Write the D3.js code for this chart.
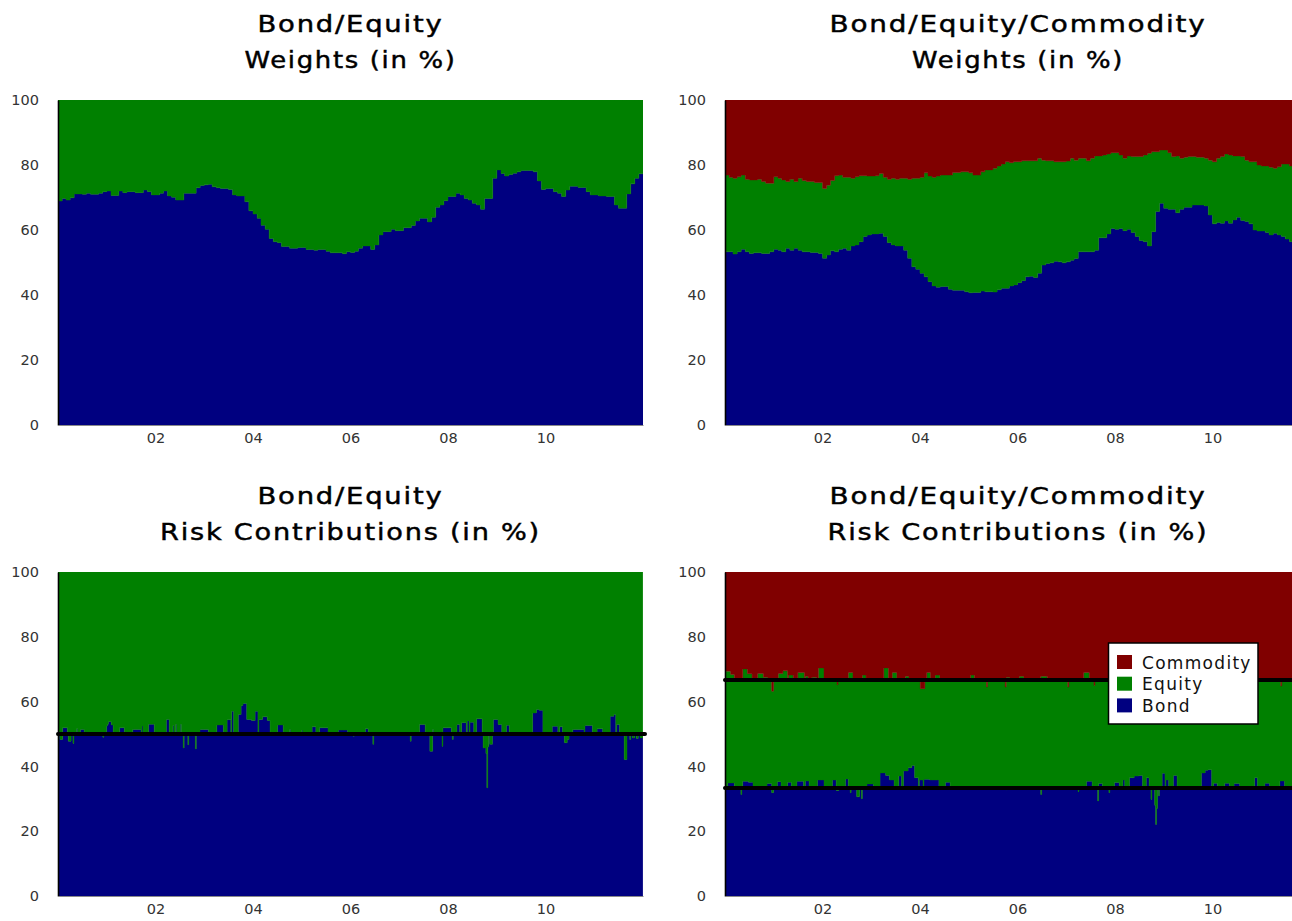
<!DOCTYPE html>
<html>
<head>
<meta charset="utf-8">
<script src="https://cdn.jsdelivr.net/npm/d3@7"></script>
<style>
  body { margin: 0; background: #fff; }
  svg { display: block; }
</style>
</head>
<body>
<svg id="chart" width="1292" height="921"></svg>
<script>
// ---------------- data ----------------
const assetNames  = ["Bond", "Equity", "Commodity"];
const assetColors = { Bond: "#000080", Equity: "#008000", Commodity: "#800000" };
const yTicks      = [0, 20, 40, 60, 80, 100];
const xTickYears  = [2002, 2004, 2006, 2008, 2010];

// Bond/Equity portfolio: monthly bond weight (%) from Jan 2000; equity is the rest
const bondW2 = [
  68.9, 69.7, 69.2, 69.9, 71.1, 71.1, 71.0, 71.3, 71.0, 71.0,
  71.3, 71.8, 72.0, 70.6, 70.6, 72.0, 71.5, 71.8, 71.8, 71.5,
  71.5, 72.3, 71.8, 70.8, 70.8, 71.3, 72.0, 70.5, 70.1, 69.2,
  69.2, 71.3, 71.3, 71.3, 73.0, 73.7, 73.9, 74.1, 73.3, 73.0,
  72.8, 72.8, 72.5, 70.8, 70.5, 70.5, 68.7, 65.9, 64.9, 63.6,
  61.5, 60.2, 57.4, 56.4, 56.1, 54.9, 54.9, 54.4, 54.4, 54.6,
  54.6, 54.0, 54.0, 53.8, 54.0, 54.0, 53.5, 53.0, 53.0, 53.0,
  52.7, 53.3, 53.1, 53.5, 54.4, 55.1, 55.1, 54.0, 55.4, 58.5,
  59.5, 59.5, 60.2, 59.8, 59.8, 60.7, 60.7, 61.4, 62.8, 63.6,
  63.6, 62.5, 63.9, 67.0, 67.7, 69.0, 70.3, 70.3, 71.3, 70.8,
  69.7, 69.2, 68.2, 67.7, 66.4, 69.7, 69.7, 75.9, 78.5, 77.4,
  76.6, 77.1, 77.5, 77.9, 78.3, 78.3, 78.3, 77.9, 75.1, 72.5,
  72.8, 72.8, 71.8, 71.3, 70.3, 72.3, 73.5, 73.5, 73.1, 73.1,
  71.8, 70.8, 70.8, 70.5, 70.5, 70.3, 70.3, 67.7, 66.7, 66.7,
  71.1, 74.2, 75.9, 77.3
];

// Bond/Equity/Commodity portfolio: monthly weights (%) from Jan 2000; commodity is the rest
const bondW3 = [
  53.3, 53.3, 52.6, 53.3, 54.1, 53.3, 52.8, 53.0, 53.0, 52.8,
  52.8, 53.3, 54.1, 53.8, 53.3, 54.4, 53.8, 54.4, 53.8, 53.3,
  53.3, 53.1, 53.1, 52.8, 51.3, 52.3, 53.6, 53.3, 54.1, 54.4,
  53.8, 55.1, 55.4, 56.4, 58.0, 58.5, 58.8, 58.8, 59.0, 58.0,
  56.1, 55.4, 55.1, 55.1, 53.8, 51.3, 48.7, 47.9, 46.7, 45.6,
  44.1, 42.8, 42.4, 42.6, 42.6, 41.8, 41.5, 41.5, 41.5, 41.0,
  40.7, 40.8, 40.8, 41.2, 41.0, 41.0, 40.9, 41.6, 42.1, 42.1,
  42.8, 43.1, 43.8, 44.4, 45.6, 45.8, 45.4, 46.7, 49.2, 49.7,
  49.9, 50.4, 50.2, 49.9, 50.2, 50.7, 51.2, 53.3, 53.3, 53.3,
  53.3, 53.8, 57.6, 57.6, 58.8, 60.5, 60.2, 60.5, 59.8, 60.2,
  59.2, 58.0, 56.8, 56.4, 55.1, 59.5, 65.7, 68.2, 66.7, 66.4,
  66.4, 65.3, 66.4, 67.0, 67.0, 67.7, 67.7, 67.7, 67.4, 64.6,
  61.9, 62.3, 62.1, 62.8, 62.1, 63.1, 63.9, 62.9, 62.6, 61.9,
  60.0, 59.7, 59.7, 59.2, 58.5, 59.0, 58.5, 58.0, 57.2, 56.4
];
const equityW3 = [
  23.6, 22.9, 23.3, 23.1, 22.8, 22.3, 22.6, 22.4, 22.6, 22.1,
  21.6, 21.1, 22.3, 22.1, 22.1, 20.5, 21.8, 20.5, 22.1, 21.9,
  21.6, 21.8, 21.5, 21.8, 21.5, 21.5, 21.6, 23.4, 22.8, 21.8,
  22.4, 20.8, 21.0, 20.3, 18.7, 18.1, 17.8, 17.9, 18.4, 18.2,
  19.5, 20.5, 20.5, 20.8, 22.1, 24.3, 27.2, 28.0, 29.5, 32.0,
  32.5, 33.4, 34.2, 34.3, 34.3, 35.1, 36.2, 36.2, 36.4, 36.9,
  36.9, 36.1, 36.1, 36.7, 37.5, 37.5, 38.1, 38.1, 38.2, 38.9,
  37.9, 37.9, 37.2, 36.9, 35.7, 35.5, 35.9, 35.4, 32.3, 31.6,
  31.4, 30.6, 30.8, 31.1, 31.0, 31.4, 30.3, 28.8, 28.8, 28.0,
  28.8, 29.0, 25.2, 25.5, 24.6, 23.3, 23.6, 22.6, 22.3, 22.6,
  23.4, 24.6, 25.8, 26.7, 28.5, 24.6, 18.4, 16.4, 17.9, 17.4,
  16.2, 17.5, 15.7, 15.4, 15.6, 14.9, 14.7, 14.7, 14.7, 16.9,
  19.1, 19.8, 20.5, 20.6, 21.0, 19.7, 18.9, 19.7, 18.9, 19.1,
  21.0, 20.3, 20.0, 20.5, 20.8, 20.0, 21.0, 22.3, 23.1, 23.3
];

// Weekly risk contributions (%): equal-risk targets, and the weeks
// [first week, last week, value] where the realised contribution departs from them
const rcTarget2 = 50;
const rcTarget3 = 100 / 3;

const rc2BondDeviations = [
  [2, 4, 48.3], [5, 9, 51.9], [11, 13, 47.8], [16, 16, 47.1], [20, 20, 51.6], [24, 27, 51.4],
  [48, 48, 49.0], [52, 52, 52.5], [53, 53, 53.0], [54, 56, 53.8], [57, 58, 52.8], [66, 70, 51.9],
  [80, 88, 51.4], [90, 90, 52.5], [97, 102, 53.0], [116, 118, 54.5], [123, 123, 52.6],
  [126, 126, 53.0], [131, 131, 53.0], [134, 134, 45.7], [139, 139, 46.7], [147, 147, 45.4],
  [152, 160, 51.4], [170, 176, 52.8], [181, 184, 54.4], [186, 187, 57.0], [193, 195, 56.0],
  [196, 197, 58.8], [198, 201, 59.4], [202, 206, 54.5], [207, 210, 54.2], [211, 213, 57.0],
  [215, 218, 54.5], [219, 223, 55.3], [224, 226, 54.2], [235, 240, 52.8], [248, 248, 51.4],
  [261, 261, 51.2], [272, 275, 52.2], [280, 288, 51.9], [300, 309, 51.2], [316, 316, 49.3],
  [329, 331, 51.6], [337, 337, 46.8], [377, 377, 47.8], [387, 392, 52.9], [398, 400, 44.7],
  [401, 401, 51.4], [411, 411, 46.2], [412, 420, 51.9], [422, 422, 48.3], [427, 429, 52.9],
  [432, 436, 53.5], [438, 439, 54.0], [441, 444, 53.6], [448, 453, 54.7], [455, 457, 45.7],
  [458, 458, 44.0], [459, 459, 33.4], [460, 460, 46.0], [462, 464, 46.8], [466, 470, 54.5],
  [471, 474, 52.9], [480, 482, 52.7], [508, 511, 56.5], [512, 514, 57.6], [515, 518, 57.3],
  [529, 534, 52.4], [537, 539, 52.2], [542, 544, 47.3], [545, 546, 48.3], [551, 562, 51.4],
  [564, 571, 52.6], [577, 582, 51.6], [591, 594, 55.5], [595, 596, 56.0], [598, 600, 52.9],
  [606, 608, 42.1], [612, 612, 48.3], [615, 616, 48.8], [619, 620, 48.6], [623, 625, 48.8]
];

const rc3BondDeviations = [
  [3, 9, 34.9], [17, 17, 31.3], [19, 24, 35.4], [25, 29, 35.1], [45, 49, 34.7], [50, 51, 31.9],
  [56, 59, 35.3], [67, 70, 35.1], [77, 83, 35.4], [86, 89, 35.5], [99, 105, 35.8], [115, 118, 35.8],
  [119, 121, 32.6], [129, 131, 36.1], [134, 134, 31.9], [141, 143, 30.6], [146, 146, 30.0],
  [152, 158, 34.6], [166, 171, 38.0], [172, 175, 37.2], [176, 180, 35.8], [186, 188, 37.0],
  [191, 195, 38.6], [196, 199, 39.6], [200, 202, 40.3], [203, 206, 36.5], [208, 211, 35.8],
  [213, 218, 36.0], [219, 228, 35.8], [236, 240, 35.1], [301, 301, 32.8], [338, 338, 31.3],
  [378, 378, 32.2], [387, 392, 35.4], [399, 399, 29.3], [400, 403, 34.7], [411, 411, 31.9],
  [417, 421, 35.0], [426, 427, 35.8], [433, 437, 36.5], [438, 442, 37.0], [443, 446, 37.2],
  [451, 453, 36.5], [456, 456, 29.8], [460, 460, 28.0], [461, 461, 22.1], [462, 462, 27.0],
  [464, 464, 30.9], [468, 470, 37.9], [472, 474, 35.8], [480, 483, 37.2], [510, 513, 38.0],
  [514, 516, 38.8], [517, 520, 39.0], [523, 526, 34.8], [535, 539, 34.8], [545, 550, 34.7],
  [567, 569, 36.5], [578, 582, 34.8], [594, 598, 35.5]
];
const rc3CommodityDeviations = [
  [0, 5, 30.6], [6, 9, 31.6], [19, 23, 29.9], [24, 28, 31.4], [35, 40, 31.3], [41, 45, 32.5],
  [50, 51, 36.8], [57, 61, 31.3], [62, 66, 30.5], [68, 72, 31.8], [78, 84, 31.0], [86, 88, 32.2],
  [93, 97, 32.5], [100, 105, 29.6], [120, 120, 34.8], [132, 136, 31.0], [147, 150, 31.8],
  [170, 174, 29.6], [179, 183, 31.0], [193, 196, 32.2], [209, 213, 36.0], [216, 219, 31.0],
  [225, 229, 31.8], [263, 266, 31.8], [280, 280, 35.5], [300, 300, 35.5], [301, 304, 32.5],
  [315, 319, 32.2], [338, 344, 32.2], [367, 367, 35.5], [384, 389, 31.0], [395, 395, 35.0],
  [399, 403, 32.8], [582, 585, 32.8], [595, 595, 35.2]
];

// ---------------- helpers ----------------
const startDate = new Date(2000, 0, 1);
const monthDate = i => new Date(2000, i, 1);
const weekDate  = w => d3.timeDay.offset(startDate, 7 * w);

function weekly(nWeeks, target, deviations) {
  const s = new Array(nWeeks).fill(target);
  deviations.forEach(([a, b, v]) => { for (let w = a; w <= b && w < nWeeks; w++) s[w] = v; });
  return s;
}

const svg = d3.select("#chart");
const defs = svg.append("defs");
let clipId = 0;

function drawPanel(p) {
  const x = d3.scaleTime().domain([startDate, p.end]).range([p.x0, p.x1]);
  const y = d3.scaleLinear().domain([0, 100]).range([p.y1, p.y0]);

  const id = "clip" + (clipId++);
  defs.append("clipPath").attr("id", id)
    .append("rect").attr("x", p.x0).attr("y", p.y0)
    .attr("width", p.x1 - p.x0).attr("height", p.y1 - p.y0);

  const g = svg.append("g");
  const plot = g.append("g").attr("clip-path", `url(#${id})`);

  const layers = d3.stack().keys(p.keys)(p.rows);
  const area = d3.area()
    .curve(d3.curveStepAfter)
    .x(d => x(d.data.date))
    .y0(d => y(d[0]))
    .y1(d => y(d[1]));

  plot.selectAll("path.layer").data(layers).join("path")
    .attr("class", "layer")
    .attr("fill", d => assetColors[d.key])
    .attr("stroke", d => assetColors[d.key])
    .attr("stroke-width", 0.4)
    .attr("d", area);

  // equal-risk reference levels
  (p.targets || []).forEach(t => {
    g.append("line")
      .attr("x1", p.x0).attr("x2", Math.min(p.x1 + 2, 1292))
      .attr("y1", y(t)).attr("y2", y(t))
      .attr("stroke", "#000").attr("stroke-width", 4)
      .attr("stroke-linecap", "round");
  });

  // axes
  const yAxis = d3.axisLeft(y).tickValues(yTicks).tickSize(0).tickPadding(19);
  const ya = g.append("g").attr("transform", `translate(${p.x0},0)`).call(yAxis);
  ya.select(".domain").attr("stroke", "#000").attr("stroke-width", 1.6);
  ya.selectAll("text").attr("font-family", "DejaVu Sans").attr("font-size", 14.5).attr("fill", "#333");

  const xAxis = d3.axisBottom(x)
    .tickValues(xTickYears.map(yr => new Date(yr, 0, 1)))
    .tickFormat(d3.timeFormat("%y"))
    .tickSize(0).tickPadding(8);
  const xa = g.append("g").attr("transform", `translate(0,${p.y1})`).call(xAxis);
  xa.select(".domain").attr("stroke", "#8a8a8a").attr("stroke-width", 1.2);
  xa.selectAll("text").attr("font-family", "DejaVu Sans").attr("font-size", 14.5).attr("fill", "#333");

  // title (two lines)
  p.title.forEach((line, i) => {
    svg.append("text")
      .attr("x", p.titleX).attr("y", p.titleY + i * 35.5)
      .attr("text-anchor", "middle")
      .attr("font-family", "DejaVu Sans").attr("font-size", 23)
      .attr("fill", "#000").attr("stroke", "#000").attr("stroke-width", 0.45)
      .attr("letter-spacing", 1.5)
      .attr("textLength", line.w).attr("lengthAdjust", "spacingAndGlyphs")
      .text(line.t);
  });
  return { x, y, g };
}

// ---------------- build rows ----------------
const leftEnd  = new Date(2012, 0, 1);
const rightEnd = new Date(2011, 7, 20);

const rowsW2 = bondW2.map((b, i) => ({ date: monthDate(i), Bond: b, Equity: 100 - b }));
rowsW2.push({ ...rowsW2[rowsW2.length - 1], date: leftEnd });

const rowsW3 = bondW3.map((b, i) => ({
  date: monthDate(i), Bond: b, Equity: equityW3[i], Commodity: 100 - b - equityW3[i]
}));
rowsW3.push({ ...rowsW3[rowsW3.length - 1], date: rightEnd });

const nW2 = 627;
const rcBond2 = weekly(nW2, rcTarget2, rc2BondDeviations);
const rowsRC2 = rcBond2.map((b, w) => ({ date: weekDate(w), Bond: b, Equity: 100 - b }));

const nW3 = 610;
const rcBond3 = weekly(nW3, rcTarget3, rc3BondDeviations);
const rcComm3 = weekly(nW3, rcTarget3, rc3CommodityDeviations);
const rowsRC3 = rcBond3.map((b, w) => ({
  date: weekDate(w), Bond: b, Commodity: rcComm3[w], Equity: 100 - b - rcComm3[w]
}));

// ---------------- panels ----------------
drawPanel({
  x0: 58, x1: 643, y0: 100, y1: 425, end: leftEnd,
  keys: ["Bond", "Equity"], rows: rowsW2,
  titleX: 350.5, titleY: 32,
  title: [{ t: "Bond/Equity", w: 186 }, { t: "Weights (in %)", w: 212 }]
});

drawPanel({
  x0: 725, x1: 1292, y0: 100, y1: 425, end: rightEnd,
  keys: ["Bond", "Equity", "Commodity"], rows: rowsW3,
  titleX: 1018, titleY: 32,
  title: [{ t: "Bond/Equity/Commodity", w: 377 }, { t: "Weights (in %)", w: 212 }]
});

drawPanel({
  x0: 58, x1: 643, y0: 572, y1: 896, end: leftEnd,
  keys: ["Bond", "Equity"], rows: rowsRC2, targets: [rcTarget2],
  titleX: 350.5, titleY: 504,
  title: [{ t: "Bond/Equity", w: 186 }, { t: "Risk Contributions (in %)", w: 381 }]
});

drawPanel({
  x0: 725, x1: 1292, y0: 572, y1: 896, end: rightEnd,
  keys: ["Bond", "Equity", "Commodity"], rows: rowsRC3, targets: [rcTarget3, 2 * rcTarget3],
  titleX: 1018, titleY: 504,
  title: [{ t: "Bond/Equity/Commodity", w: 377 }, { t: "Risk Contributions (in %)", w: 381 }]
});

// ---------------- legend ----------------
const legend = svg.append("g").attr("transform", "translate(1108.5,643)");
legend.append("rect").attr("width", 149.5).attr("height", 81)
  .attr("fill", "#fff").attr("stroke", "#000").attr("stroke-width", 1.5);
["Commodity", "Equity", "Bond"].forEach((name, i) => {
  const row = legend.append("g").attr("transform", `translate(8.5,${12 + i * 21.7})`);
  row.append("rect").attr("width", 15).attr("height", 14).attr("fill", assetColors[name]);
  row.append("text").attr("x", 25).attr("y", 13.5)
    .attr("font-family", "DejaVu Sans").attr("font-size", 17)
    .attr("letter-spacing", 1.3).attr("fill", "#111")
    .text(name);
});
</script>
</body>
</html>
